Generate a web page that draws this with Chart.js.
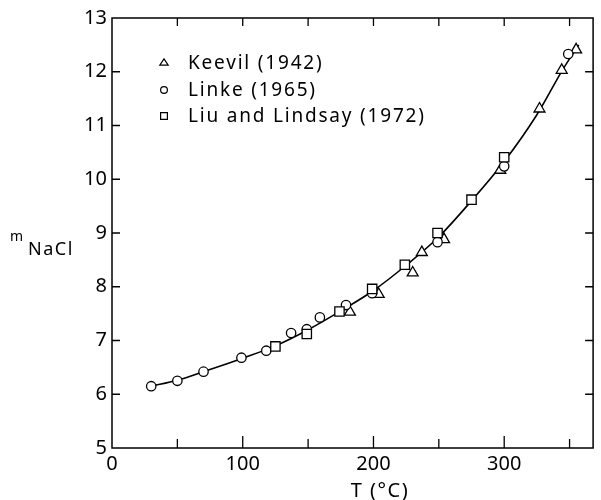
<!DOCTYPE html>
<html>
<head>
<meta charset="utf-8">
<script src="https://cdn.jsdelivr.net/npm/chart.js@4.4.1/dist/chart.umd.min.js"></script>
<style>
  html, body { margin: 0; padding: 0; background: #fff; }
  #wrap { width: 601px; height: 500px; overflow: hidden; }
</style>
</head>
<body>
<div id="wrap"><canvas id="chart" width="601" height="500"></canvas></div>
<script>
// Keevil (1942) - triangles
const keevilT = [182, 204, 230, 237, 254, 297, 327, 344, 355];
const keevilM = [7.53, 7.86, 8.26, 8.64, 8.88, 10.17, 11.31, 12.03, 12.41];

// Linke (1965) - circles
const linkeT = [30, 50, 70, 99, 118, 137, 149, 159, 179, 199, 249, 300, 349];
const linkeM = [6.15, 6.25, 6.42, 6.68, 6.81, 7.14, 7.21, 7.43, 7.66, 7.88, 8.83, 10.24, 12.33];

// Liu and Lindsay (1972) - squares
const liuT = [125, 149, 174, 199, 224, 249, 275, 300];
const liuM = [6.89, 7.12, 7.54, 7.96, 8.41, 9.0, 9.62, 10.41];

// smooth curve through the data
const curveT = [30, 50, 70, 100, 125, 150, 175, 200, 225, 250, 275, 300, 325, 345, 357];
const curveM = [6.15, 6.26, 6.42, 6.67, 6.9, 7.2, 7.55, 7.93, 8.4, 8.93, 9.6, 10.33, 11.2, 12.05, 12.5];

const xTicks = [0, 100, 200, 300];
const yTicks = [5, 6, 7, 8, 9, 10, 11, 12, 13];

const legendLabels = ['Keevil (1942)', 'Linke (1965)', 'Liu and Lindsay (1972)'];
const legendStyles = ['triangle', 'circle', 'rect'];

const FONT = '"Noto Sans", "DejaVu Sans", sans-serif';

const toPoints = (xs, ys) => xs.map((x, i) => ({ x: x, y: ys[i] }));

function markerPath(ctx, style, x, y, r) {
  ctx.beginPath();
  if (style === 'circle') {
    ctx.arc(x, y, r, 0, Math.PI * 2);
  } else if (style === 'rect') {
    ctx.rect(x - r, y - r, 2 * r, 2 * r);
  } else {
    const h = r * 1.5;
    const w = r * 0.866;
    ctx.moveTo(x, y - r);
    ctx.lineTo(x + w * 1.15, y + h - r);
    ctx.lineTo(x - w * 1.15, y + h - r);
    ctx.closePath();
  }
}

// frame with inward ticks
const framePlugin = {
  id: 'frame',
  beforeDatasetsDraw(chart) {
    const { ctx, chartArea: a, scales } = chart;
    ctx.save();
    ctx.strokeStyle = '#000';
    ctx.lineWidth = 1.5;
    ctx.strokeRect(a.left, a.top, a.right - a.left, a.bottom - a.top);
    ctx.lineWidth = 1.3;
    ctx.beginPath();
    scales.x.ticks.forEach(t => {
      if (t.value <= 0 || t.value % 50 !== 0) return;
      const px = scales.x.getPixelForValue(t.value);
      const len = t.value % 100 === 0 ? 12 : 9;
      ctx.moveTo(px, a.bottom);
      ctx.lineTo(px, a.bottom - len);
      ctx.moveTo(px, a.top);
      ctx.lineTo(px, a.top + 8);
    });
    scales.y.ticks.forEach(t => {
      if (t.value <= 5 || t.value >= 13) return;
      const py = scales.y.getPixelForValue(t.value);
      ctx.moveTo(a.left, py);
      ctx.lineTo(a.left + 8, py);
      ctx.moveTo(a.right, py);
      ctx.lineTo(a.right - 8, py);
    });
    ctx.stroke();
    ctx.restore();
  },
  afterDraw(chart) {
    const { ctx } = chart;
    ctx.save();
    ctx.fillStyle = '#000';
    ctx.strokeStyle = '#000';

    // legend
    ctx.font = '19px ' + FONT;
    ctx.letterSpacing = '1.8px';
    ctx.textBaseline = 'middle';
    ctx.textAlign = 'left';
    const rows = [63, 90, 116];
    const sizes = [4.2, 3.4, 3.4];
    legendLabels.forEach((label, i) => {
      ctx.fillStyle = '#000';
      ctx.fillText(label, 188, rows[i] + 1);
      markerPath(ctx, legendStyles[i], 164, rows[i], sizes[i]);
      ctx.fillStyle = '#fff';
      ctx.fill();
      ctx.lineWidth = 1.2;
      ctx.stroke();
    });

    // x title
    ctx.fillStyle = '#000';
    ctx.letterSpacing = '1.5px';
    ctx.font = '20px ' + FONT;
    ctx.textAlign = 'center';
    ctx.textBaseline = 'top';
    ctx.fillText('T (°C)', 380, 481);

    // y title: m with subscript NaCl
    ctx.textAlign = 'left';
    ctx.textBaseline = 'alphabetic';
    ctx.letterSpacing = '0px';
    ctx.font = '14px ' + FONT;
    ctx.fillText('m', 10, 241);
    ctx.letterSpacing = '1.5px';
    ctx.font = '18px ' + FONT;
    ctx.fillText('NaCl', 28, 255);
    ctx.restore();
  }
};

const pointCommon = {
  showLine: false,
  backgroundColor: '#fff',
  borderColor: '#000',
  pointBorderWidth: 1.3,
  pointBackgroundColor: '#fff',
  pointBorderColor: '#000'
};

new Chart(document.getElementById('chart'), {
  type: 'scatter',
  data: {
    datasets: [
      Object.assign({ label: legendLabels[2], data: toPoints(liuT, liuM), pointStyle: 'rect', pointRadius: 6.6, order: 1 }, pointCommon),
      Object.assign({ label: legendLabels[1], data: toPoints(linkeT, linkeM), pointStyle: 'circle', pointRadius: 4.7, order: 2 }, pointCommon),
      Object.assign({ label: legendLabels[0], data: toPoints(keevilT, keevilM), pointStyle: 'triangle', pointRadius: 6.3, order: 3 }, pointCommon),
      {
        label: 'fit',
        data: toPoints(curveT, curveM),
        showLine: true,
        borderColor: '#000',
        borderWidth: 1.6,
        pointRadius: 0,
        cubicInterpolationMode: 'monotone',
        order: 10
      }
    ]
  },
  options: {
    responsive: false,
    animation: false,
    devicePixelRatio: 1,
    layout: { padding: { top: 18, right: 1, bottom: 0, left: 0 } },
    plugins: {
      legend: { display: false },
      tooltip: { enabled: false }
    },
    scales: {
      x: {
        type: 'linear',
        min: 0,
        max: 368,
        grid: { display: false, drawTicks: false },
        border: { display: false },
        afterFit: s => { s.height = 52; },
        ticks: {
          stepSize: 50,
          includeBounds: false,
          autoSkip: false,
          maxRotation: 0,
          padding: 4,
          color: '#000',
          font: { family: FONT, size: 20 },
          callback: v => (xTicks.includes(v) ? String(v) : '')
        }
      },
      y: {
        type: 'linear',
        min: 5,
        max: 13,
        grid: { display: false, drawTicks: false },
        border: { display: false },
        afterFit: s => { s.width = 112; },
        ticks: {
          stepSize: 1,
          autoSkip: false,
          padding: 5,
          color: '#000',
          font: { family: FONT, size: 20 },
          callback: v => (yTicks.includes(v) ? String(v) : '')
        }
      }
    }
  },
  plugins: [framePlugin]
});
</script>
</body>
</html>
